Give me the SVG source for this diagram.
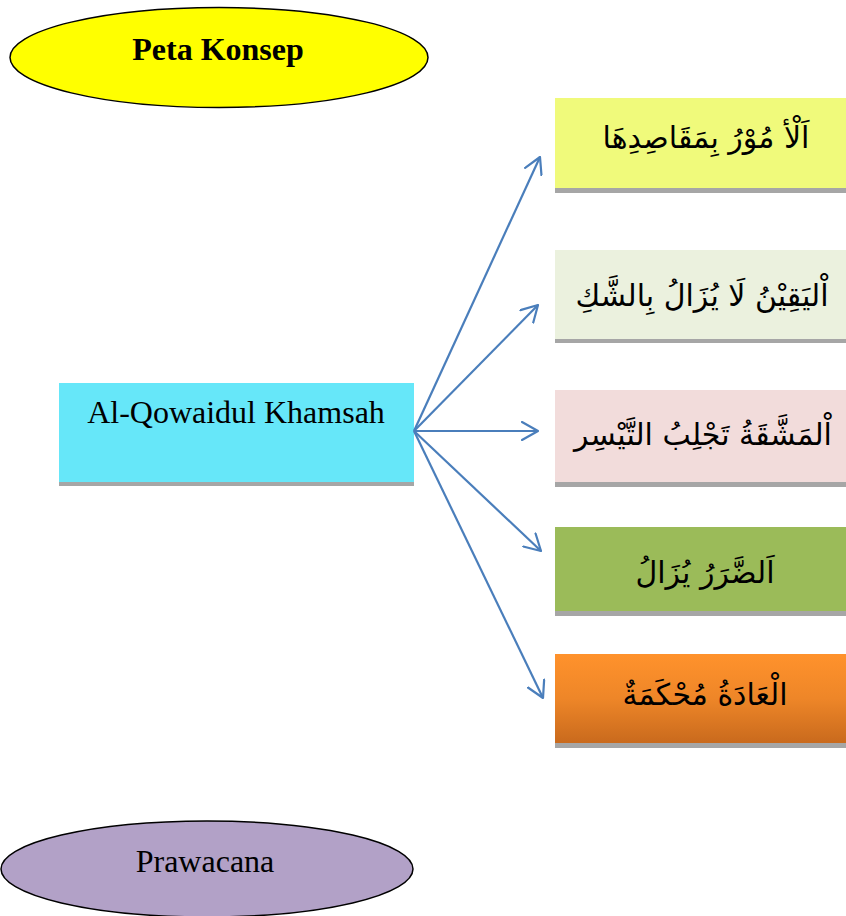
<svg xmlns="http://www.w3.org/2000/svg" width="846" height="916" viewBox="0 0 846 916">
<style>
.lat{font-family:"Liberation Serif","Times New Roman",serif;fill:#000}
.ar{font-family:"DejaVu Sans","Noto Sans",sans-serif;font-size:30px;fill:#000;text-anchor:middle}
.sh{fill:#a6a6a6}
.conn line{stroke:#4a7ebb;stroke-width:2.2;fill:none}
</style>
<defs>
<marker id="arr" viewBox="0 0 18 20" refX="17" refY="10" markerWidth="18" markerHeight="20" markerUnits="userSpaceOnUse" orient="auto">
<path d="M1,1 L17,10 L1,19" fill="none" stroke="#4a7ebb" stroke-width="2.2" stroke-linecap="round" stroke-linejoin="round"/>
</marker>
<linearGradient id="og" x1="0" y1="0" x2="0" y2="1">
<stop offset="0" stop-color="#ff922c"/>
<stop offset="0.5" stop-color="#ee8628"/>
<stop offset="1" stop-color="#c96a1d"/>
</linearGradient>
</defs>
<rect width="846" height="916" fill="#fff"/>
<g id="peta">
<ellipse cx="219" cy="57.5" rx="209" ry="50" fill="#ffff00" stroke="#000" stroke-width="1.5"/>
<text class="lat" x="218" y="60" font-size="32" font-weight="bold" text-anchor="middle">Peta Konsep</text>
</g>
<g id="pusat">
<rect class="sh" x="59" y="387" width="355" height="99"/>
<rect x="59" y="383" width="355" height="99" fill="#66e7f9"/>
<text class="lat" x="236" y="423" font-size="32" text-anchor="middle">Al-Qowaidul Khamsah</text>
</g>
<g id="k1">
<rect class="sh" x="555" y="102" width="291" height="91"/>
<rect x="555" y="98" width="291" height="90" fill="#f0fa7b"/>
<text class="ar" x="706" y="148" direction="rtl">اَلْأ مُوْرُ بِمَقَاصِدِهَا</text>
</g>
<g id="k2">
<rect class="sh" x="555" y="254" width="291" height="89"/>
<rect x="555" y="250" width="291" height="89" fill="#ebf1de"/>
<text class="ar" x="702" y="306" direction="rtl">اْليَقِيْنُ لَا يُزَالُ بِالشَّكِ</text>
</g>
<g id="k3">
<rect class="sh" x="555" y="394" width="291" height="93"/>
<rect x="555" y="390" width="291" height="92" fill="#f2dcdb"/>
<text class="ar" x="703" y="445" direction="rtl">اْلمَشَّقَةُ تَجْلِبُ التَّيْسِر</text>
</g>
<g id="k4">
<rect class="sh" x="555" y="531" width="291" height="85"/>
<rect x="555" y="527" width="291" height="84" fill="#9bbb59"/>
<text class="ar" x="705" y="583" direction="rtl">اَلضَّرَرُ يُزَالُ</text>
</g>
<g id="k5">
<rect class="sh" x="555" y="658" width="291" height="90"/>
<rect x="555" y="654" width="291" height="89" fill="url(#og)"/>
<text class="ar" x="705" y="705" direction="rtl">الْعَادَةُ مُحْكَمَةٌ</text>
</g>
<g id="prawacana">
<ellipse cx="207" cy="869" rx="206" ry="48" fill="#b2a1c7" stroke="#000" stroke-width="1.5"/>
<text class="lat" x="205" y="872" font-size="32" text-anchor="middle">Prawacana</text>
</g>
<g id="connectors" class="conn">
<line x1="414" y1="431" x2="540" y2="157" marker-end="url(#arr)"/>
<line x1="414" y1="431" x2="538" y2="305" marker-end="url(#arr)"/>
<line x1="414" y1="431" x2="538" y2="431" marker-end="url(#arr)"/>
<line x1="414" y1="431" x2="541" y2="551" marker-end="url(#arr)"/>
<line x1="414" y1="431" x2="543" y2="698" marker-end="url(#arr)"/>
</g>
</svg>
